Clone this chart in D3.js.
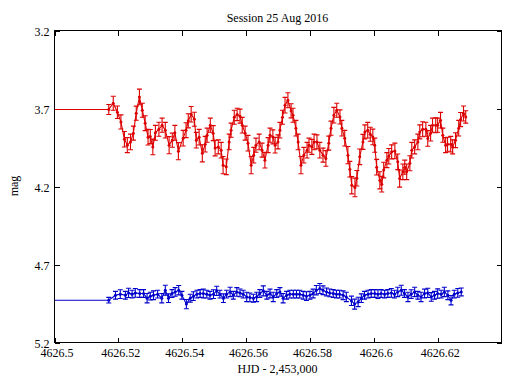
<!DOCTYPE html>
<html><head><meta charset="utf-8">
<script src="https://cdn.jsdelivr.net/npm/d3@7"></script>
<style>
html,body{margin:0;padding:0;background:#fff;}
svg{display:block;}
text{font-family:"Liberation Serif","Times New Roman",serif;font-size:12px;fill:#000;}
</style></head>
<body>
<script>
const titleText = "Session 25 Aug 2016";
const xLabel = "HJD - 2,453,000";
const yLabel = "mag";
const xTicks = [4626.5, 4626.52, 4626.54, 4626.56, 4626.58, 4626.6, 4626.62];
const xTickLabels = ["4626.5","4626.52","4626.54","4626.56","4626.58","4626.6","4626.62"];
const yTicks = [3.2, 3.7, 4.2, 4.7, 5.2];
const yTickLabels = ["3.2","3.7","4.2","4.7","5.2"];
const xDomain = [4626.5, 4626.64];
const yDomain = [3.2, 5.2];
const leadHJD = 4626.5;

const redHJD = [4626.5170,4626.5184,4626.5197,4626.5208,4626.5219,4626.5228,4626.5238,4626.5247,4626.5256,4626.5266,
4626.5275,4626.5284,4626.5293,4626.5300,4626.5308,4626.5316,4626.5327,4626.5337,4626.5347,4626.5359,
4626.5369,4626.5377,4626.5388,4626.5403,4626.5412,4626.5419,4626.5428,4626.5438,4626.5444,4626.5453,
4626.5463,4626.5472,4626.5478,4626.5488,4626.5497,4626.5503,4626.5513,4626.5522,4626.5528,4626.5538,
4626.5547,4626.5553,4626.5563,4626.5572,4626.5581,4626.5588,4626.5597,4626.5606,4626.5616,4626.5624,
4626.5631,4626.5641,4626.5650,4626.5659,4626.5669,4626.5675,4626.5684,4626.5691,4626.5700,4626.5706,
4626.5714,4626.5722,4626.5731,4626.5741,4626.5747,4626.5756,4626.5763,4626.5772,4626.5781,4626.5791,
4626.5797,4626.5806,4626.5813,4626.5822,4626.5831,4626.5841,4626.5850,4626.5859,4626.5866,4626.5875,
4626.5884,4626.5894,4626.5900,4626.5909,4626.5919,4626.5925,4626.5931,4626.5941,4626.5947,4626.5956,
4626.5966,4626.5972,4626.5981,4626.5989,4626.5997,4626.6003,4626.6009,4626.6019,4626.6025,4626.6031,
4626.6041,4626.6047,4626.6056,4626.6066,4626.6075,4626.6081,4626.6091,4626.6097,4626.6103,4626.6113,
4626.6119,4626.6128,4626.6138,4626.6144,4626.6153,4626.6163,4626.6169,4626.6178,4626.6184,4626.6194,
4626.6200,4626.6209,4626.6216,4626.6225,4626.6231,4626.6241,4626.6247,4626.6256,4626.6266,4626.6272,
4626.6281,4626.6288];
const redMag = [3.706,3.666,3.724,3.786,3.897,3.935,3.914,3.858,3.730,3.626,
3.711,3.794,3.884,3.880,3.946,3.856,3.833,3.807,3.839,3.935,
3.903,3.856,3.974,3.890,3.839,3.779,3.737,3.769,3.903,3.884,
3.987,3.929,3.871,3.807,3.858,3.954,3.946,3.967,4.063,4.074,
3.914,3.839,3.756,3.738,3.749,3.807,3.858,3.922,4.063,3.999,
3.935,3.914,3.967,4.031,3.935,3.871,3.882,3.935,3.914,3.839,
3.756,3.679,3.647,3.715,3.743,3.826,3.914,4.063,3.999,3.967,
3.935,3.946,3.914,3.914,3.967,3.999,4.020,3.922,3.826,3.743,
3.711,3.754,3.826,3.890,3.999,4.089,4.192,4.206,4.147,4.010,
3.914,3.850,3.839,3.865,3.882,3.935,4.076,4.160,4.185,4.095,
4.031,4.006,3.978,3.972,4.042,4.149,4.106,4.076,4.106,4.051,
3.967,3.946,3.914,3.850,3.833,3.833,3.892,3.858,3.807,3.807,
3.807,3.775,3.871,3.935,3.929,3.929,3.946,3.903,3.826,3.771,
3.732,3.754];
const redErr = [0.032,0.045,0.040,0.045,0.050,0.048,0.050,0.045,0.045,0.050,
0.045,0.048,0.050,0.045,0.050,0.048,0.045,0.045,0.050,0.055,
0.045,0.048,0.055,0.050,0.048,0.045,0.050,0.045,0.050,0.050,
0.055,0.050,0.045,0.045,0.048,0.050,0.045,0.050,0.055,0.050,
0.050,0.045,0.045,0.040,0.045,0.050,0.045,0.050,0.055,0.050,
0.045,0.050,0.045,0.050,0.048,0.045,0.045,0.050,0.045,0.050,
0.045,0.050,0.048,0.045,0.045,0.050,0.050,0.055,0.050,0.050,
0.045,0.048,0.050,0.045,0.050,0.045,0.050,0.045,0.045,0.050,
0.045,0.045,0.050,0.050,0.055,0.050,0.055,0.060,0.050,0.050,
0.048,0.045,0.050,0.045,0.050,0.045,0.050,0.055,0.050,0.050,
0.048,0.050,0.045,0.050,0.050,0.055,0.050,0.045,0.050,0.048,
0.050,0.045,0.050,0.045,0.048,0.045,0.050,0.050,0.045,0.048,
0.045,0.050,0.045,0.048,0.045,0.050,0.045,0.048,0.050,0.045,
0.048,0.040];

const blueHJD = [4626.5170,4626.5191,4626.5206,4626.5222,4626.5232,4626.5243,4626.5253,4626.5267,4626.5279,4626.5290,
4626.5300,4626.5310,4626.5323,4626.5336,4626.5347,4626.5357,4626.5368,4626.5378,4626.5389,4626.5399,
4626.5413,4626.5425,4626.5435,4626.5446,4626.5456,4626.5466,4626.5477,4626.5487,4626.5498,4626.5508,
4626.5518,4626.5529,4626.5539,4626.5550,4626.5560,4626.5571,4626.5581,4626.5591,4626.5602,4626.5612,
4626.5623,4626.5633,4626.5643,4626.5654,4626.5665,4626.5675,4626.5685,4626.5696,4626.5706,4626.5716,
4626.5727,4626.5737,4626.5748,4626.5758,4626.5768,4626.5779,4626.5789,4626.5800,4626.5810,4626.5820,
4626.5831,4626.5841,4626.5852,4626.5862,4626.5873,4626.5883,4626.5893,4626.5904,4626.5914,4626.5930,
4626.5940,4626.5951,4626.5961,4626.5971,4626.5982,4626.5992,4626.6003,4626.6013,4626.6023,4626.6034,
4626.6044,4626.6055,4626.6065,4626.6075,4626.6086,4626.6096,4626.6107,4626.6117,4626.6128,4626.6138,
4626.6148,4626.6159,4626.6169,4626.6180,4626.6190,4626.6200,4626.6211,4626.6221,4626.6232,4626.6242,
4626.6252,4626.6263,4626.6274];
const blueMag = [4.929,4.897,4.890,4.897,4.882,4.890,4.882,4.886,4.886,4.916,
4.903,4.897,4.890,4.916,4.865,4.916,4.886,4.876,4.865,4.897,
4.954,4.916,4.903,4.890,4.886,4.886,4.890,4.897,4.890,4.869,
4.890,4.916,4.890,4.876,4.897,4.876,4.882,4.890,4.908,4.911,
4.916,4.908,4.886,4.869,4.897,4.886,4.908,4.886,4.876,4.916,
4.897,4.890,4.890,4.890,4.890,4.897,4.903,4.897,4.886,4.865,
4.854,4.865,4.876,4.882,4.886,4.890,4.890,4.897,4.908,4.933,
4.954,4.940,4.916,4.897,4.890,4.886,4.886,4.890,4.886,4.890,
4.886,4.882,4.890,4.876,4.865,4.886,4.908,4.890,4.876,4.897,
4.908,4.886,4.882,4.908,4.897,4.886,4.890,4.876,4.897,4.929,
4.890,4.882,4.876];
const blueErr = [0.018,0.025,0.028,0.025,0.030,0.025,0.028,0.025,0.025,0.030,
0.025,0.028,0.025,0.030,0.032,0.028,0.025,0.028,0.030,0.025,
0.030,0.025,0.028,0.025,0.025,0.028,0.025,0.025,0.028,0.030,
0.025,0.028,0.025,0.030,0.025,0.028,0.025,0.025,0.030,0.028,
0.025,0.030,0.025,0.032,0.025,0.028,0.030,0.025,0.028,0.030,
0.025,0.025,0.025,0.025,0.025,0.025,0.028,0.025,0.028,0.030,
0.032,0.028,0.025,0.025,0.025,0.025,0.025,0.028,0.030,0.030,
0.032,0.030,0.028,0.025,0.025,0.025,0.025,0.028,0.025,0.025,
0.025,0.028,0.025,0.030,0.032,0.025,0.030,0.028,0.030,0.025,
0.030,0.028,0.030,0.028,0.025,0.030,0.025,0.030,0.028,0.030,
0.025,0.028,0.025];

const W = 515, H = 380;
const svg = d3.select("body").append("svg").attr("width", W).attr("height", H);

const x = d3.scaleLinear().domain(xDomain).range([54.5, 501.5]);
const y = d3.scaleLinear().domain(yDomain).range([30.5, 342.5]);

const tickLen = 5;
// bottom axis (ticks inward, with labels)
const gB = svg.append("g").attr("transform", `translate(0,${y(yDomain[1])})`)
  .call(d3.axisBottom(x).tickValues(xTicks).tickFormat((d,i)=>xTickLabels[i])
    .tickSizeInner(-tickLen).tickSizeOuter(0).tickPadding(6));
gB.selectAll("text").attr("dx", 2);
// top axis (ticks only)
const gT = svg.append("g").attr("transform", `translate(0,${y(yDomain[0])})`)
  .call(d3.axisTop(x).tickValues(xTicks).tickFormat("").tickSizeInner(-tickLen).tickSizeOuter(0));
// left axis
const gL = svg.append("g").attr("transform", `translate(${x(xDomain[0])},0)`)
  .call(d3.axisLeft(y).tickValues(yTicks).tickFormat((d,i)=>yTickLabels[i])
    .tickSizeInner(-tickLen).tickSizeOuter(0).tickPadding(5));
gL.selectAll("text").attr("dy", "0.45em");
// right axis
const gR = svg.append("g").attr("transform", `translate(${x(xDomain[1])},0)`)
  .call(d3.axisRight(y).tickValues(yTicks).tickFormat("").tickSizeInner(-tickLen).tickSizeOuter(0));

[gB, gT, gL, gR].forEach(g => {
  g.select(".domain").remove();
  g.selectAll("line").attr("stroke", "#000").attr("shape-rendering", "crispEdges");
  g.selectAll("text").style("font-family", '"Liberation Serif","Times New Roman",serif').style("font-size", "12px").attr("fill", "#000");
});

svg.append("defs").append("clipPath").attr("id", "clip")
  .append("rect").attr("x", x(xDomain[0])).attr("y", y(yDomain[0]))
  .attr("width", x(xDomain[1]) - x(xDomain[0])).attr("height", y(yDomain[1]) - y(yDomain[0]));

function drawSeries(hjd, mag, err, color) {
  const pts = hjd.map((t, i) => ({t, m: mag[i], e: err[i]}));
  const g = svg.append("g").attr("clip-path", "url(#clip)");
  const line = d3.line().x(d => x(d.t)).y(d => y(d.m));
  g.append("path").datum([{t: leadHJD, m: mag[0]}, ...pts])
    .attr("d", line).attr("fill", "none").attr("stroke", color).attr("stroke-width", 1.1);
  const cap = 2.5;
  const eb = g.selectAll(".eb").data(pts).enter().append("g");
  eb.append("line").attr("x1", d => x(d.t)).attr("x2", d => x(d.t))
    .attr("y1", d => y(d.m - d.e)).attr("y2", d => y(d.m + d.e))
    .attr("stroke", color).attr("stroke-width", 1.1);
  eb.append("line").attr("x1", d => x(d.t) - cap).attr("x2", d => x(d.t) + cap)
    .attr("y1", d => y(d.m - d.e)).attr("y2", d => y(d.m - d.e))
    .attr("stroke", color).attr("stroke-width", 1.1);
  eb.append("line").attr("x1", d => x(d.t) - cap).attr("x2", d => x(d.t) + cap)
    .attr("y1", d => y(d.m + d.e)).attr("y2", d => y(d.m + d.e))
    .attr("stroke", color).attr("stroke-width", 1.1);
  g.selectAll(".mk").data(pts).enter().append("circle")
    .attr("cx", d => x(d.t)).attr("cy", d => y(d.m)).attr("r", 1.5).attr("fill", color);
}

drawSeries(redHJD, redMag, redErr, "#dd0000");
drawSeries(blueHJD, blueMag, blueErr, "#0000cc");

// frame
svg.append("rect").attr("x", x(xDomain[0])).attr("y", y(yDomain[0]))
  .attr("width", x(xDomain[1]) - x(xDomain[0])).attr("height", y(yDomain[1]) - y(yDomain[0]))
  .attr("fill", "none").attr("stroke", "#000").attr("stroke-width", 1).attr("shape-rendering", "crispEdges");

svg.append("text").attr("x", 277.5).attr("y", 22).attr("text-anchor", "middle").text(titleText);
svg.append("text").attr("x", 277.5).attr("y", 373).attr("text-anchor", "middle").text(xLabel);
svg.append("text").attr("transform", "translate(18,186) rotate(-90)").attr("text-anchor", "middle").text(yLabel);
</script>
</body></html>
